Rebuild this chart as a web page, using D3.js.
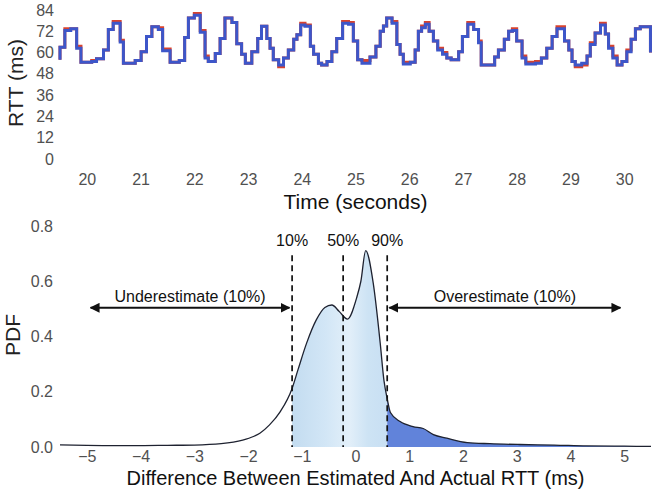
<!DOCTYPE html>
<html>
<head>
<meta charset="utf-8">
<script src="https://cdn.jsdelivr.net/npm/d3@7"></script>
<style>
  html, body { margin: 0; padding: 0; background: #fff; }
  svg { display: block; font-family: "Liberation Sans", Arial, Helvetica, sans-serif; }
</style>
</head>
<body>
<svg id="chart" width="657" height="490"></svg>
<script>
// ---------------- DATA ----------------
// Top panel: RTT step series (step start times, seconds)
const stepTimes = [19.50,19.50,19.59,19.70,19.81,19.89,20.09,20.18,20.31,20.40,20.49,20.62,20.68,20.90,21.01,21.11,21.21,21.33,21.41,21.55,21.72,21.82,21.89,22.00,22.11,22.20,22.26,22.39,22.48,22.57,22.70,22.79,22.88,22.95,23.07,23.18,23.25,23.35,23.41,23.47,23.57,23.66,23.75,23.85,23.91,23.98,24.06,24.16,24.22,24.31,24.37,24.47,24.56,24.65,24.76,24.87,24.96,25.04,25.12,25.27,25.38,25.46,25.52,25.58,25.68,25.77,25.83,25.89,26.02,26.11,26.17,26.23,26.30,26.37,26.45,26.53,26.62,26.70,26.78,26.92,26.99,27.09,27.20,27.29,27.34,27.59,27.66,27.77,27.85,27.92,28.00,28.10,28.17,28.35,28.46,28.56,28.66,28.75,28.89,28.97,29.03,29.09,29.21,29.31,29.37,29.46,29.56,29.65,29.71,29.79,29.87,29.96,30.05,30.13,30.21,30.30,30.49];
// Actual RTT (ms) - blue
const rttActual = [56,63,72.5,73.5,62.5,54.5,55,56.5,61.5,73,76.5,66,54,55.5,60.5,69,74.5,73,61,54.5,55.5,68.5,79.5,81,71.5,57,55,59.5,68,79.5,77,65,59,54,60.5,68,74.8,68,62.5,56,53,57,61.5,67.5,70,75.5,74.8,63.5,59,54,53,55,60.5,68,76.5,76,66.5,56,54,57.5,63.5,72,75,79.5,76.5,64.5,59,53.5,54.5,61.5,72,74,76,72,66.5,61.5,59,57,56,60.5,69,76,73,65.5,53,57.5,61.5,67.5,72,72.5,66.5,57,53.5,54,57,62.5,69,73.5,66.5,61.5,55,53,54,58,64.5,71,75.5,70.5,62.5,57,53,55,60.5,67.5,73.5,74.5,60];
// Estimated RTT (ms) - red
const rttEstimated = [56,63,73.5,73.5,63.5,54.5,55.5,56.5,61.5,73,77.5,67,54,55.5,60.5,69,74.5,74,62,54.5,55.5,68.5,79.5,82,72.5,58,55,59.5,68,79.5,77,65,59,54,60.5,68,74.8,68,62.5,56,52,57,61.5,67.5,70,76.5,75.5,63.5,59,54,53,55,60.5,68,77.5,77,66.5,56,55.5,57.5,63.5,72,75,79.5,77.5,64.5,59,54.5,54.5,61.5,72,75,77,72,66.5,62.5,60,57,56,60.5,69,77,73,66.5,53,57.5,61.5,67.5,72,73.5,66.5,58,54.5,55,57,62.5,69,74.5,66.5,61.5,55,52,53,58,65.5,71,76.5,70.5,63.5,58,53,55,61.5,67.5,73.5,74.5,60];
const topYTicks = [0, 12, 24, 36, 48, 60, 72, 84];
const topXTicks = [20, 21, 22, 23, 24, 25, 26, 27, 28, 29, 30];

// Bottom panel: PDF of estimation error
const pdfX = [-5.5,-5,-4.5,-4,-3.5,-3,-2.5,-2.1,-1.9,-1.78,-1.6,-1.4,-1.18,-1.07,-0.91,-0.73,-0.57,-0.44,-0.3,-0.15,0.02,0.1,0.19,0.33,0.46,0.53,0.59,0.65,0.83,1.07,1.26,1.45,1.7,2.08,2.5,3.06,3.7,4.3,5,5.5];
const pdfY = [0.008,0.006,0.005,0.005,0.006,0.007,0.012,0.025,0.038,0.05,0.08,0.128,0.212,0.28,0.376,0.46,0.505,0.514,0.49,0.463,0.539,0.6,0.711,0.593,0.376,0.24,0.175,0.125,0.092,0.074,0.067,0.045,0.032,0.016,0.012,0.009,0.007,0.004,0.003,0.002];
const quantileLabels = ["10%", "50%", "90%"];
const quantileX = [-1.18, -0.23, 0.59];
const arrowLabels = ["Underestimate (10%)", "Overestimate (10%)"];
const pdfYTicks = [0, 0.2, 0.4, 0.6, 0.8];
const pdfXTicks = [-5, -4, -3, -2, -1, 0, 1, 2, 3, 4, 5];

// ---------------- DRAW ----------------
const svg = d3.select("#chart");
svg.append("rect").attr("width", 657).attr("height", 490).attr("fill", "#fff");
const tickColor = "#505050";
const tickFont = 16;

// ---- Top panel ----
const xT = d3.scaleLinear().domain([19.5, 30.5]).range([60, 651]);
const yT = d3.scaleLinear().domain([0, 84]).range([159, 10]);

const gTopY = svg.append("g").attr("transform", "translate(60,0)")
  .call(d3.axisLeft(yT).tickValues(topYTicks).tickSize(0).tickPadding(6));
const gTopX = svg.append("g").attr("transform", "translate(0,174)")
  .call(d3.axisBottom(xT).tickValues(topXTicks).tickSize(0).tickPadding(0));
[gTopY, gTopX].forEach(g => {
  g.select(".domain").remove();
  g.selectAll("text").attr("fill", tickColor).attr("font-size", tickFont)
    .attr("font-family", "Liberation Sans, Arial, sans-serif");
});

const stepLine = d3.line().curve(d3.curveStepAfter)
  .x((d, i) => xT(stepTimes[i])).y(d => yT(d));
svg.append("path").datum(rttEstimated).attr("d", stepLine)
  .attr("fill", "none").attr("stroke", "#d8432e").attr("stroke-width", 3);
svg.append("path").datum(rttActual).attr("d", stepLine)
  .attr("fill", "none").attr("stroke", "#3d56c9").attr("stroke-width", 3);

svg.append("text").attr("transform", "translate(23,83) rotate(-90)")
  .attr("text-anchor", "middle").attr("font-size", 21).attr("fill", "#222").text("RTT (ms)");
svg.append("text").attr("x", xT(25)).attr("y", 209)
  .attr("text-anchor", "middle").attr("font-size", 21).attr("fill", "#111").text("Time (seconds)");

// ---- Bottom panel ----
const xB = d3.scaleLinear().domain([-5.5, 5.5]).range([60, 651]);
const yB = d3.scaleLinear().domain([0, 0.8]).range([447, 226]);

const gBY = svg.append("g").attr("transform", "translate(60,0)")
  .call(d3.axisLeft(yB).tickValues(pdfYTicks).tickFormat(d3.format(".1f")).tickSize(0).tickPadding(7));
const gBX = svg.append("g").attr("transform", "translate(0,451)")
  .call(d3.axisBottom(xB).tickValues(pdfXTicks).tickSize(0).tickPadding(0));
[gBY, gBX].forEach(g => {
  g.select(".domain").remove();
  g.selectAll("text").attr("fill", tickColor).attr("font-size", tickFont)
    .attr("font-family", "Liberation Sans, Arial, sans-serif");
});

const defs = svg.append("defs");
const grad = defs.append("linearGradient").attr("id", "midFill")
  .attr("gradientUnits", "userSpaceOnUse")
  .attr("x1", xB(quantileX[0])).attr("x2", xB(quantileX[2])).attr("y1", 0).attr("y2", 0);
[["0%", "#c3dcf0"], ["35%", "#d2e6f6"], ["60%", "#e2eff9"], ["80%", "#cde3f4"], ["100%", "#c8dff3"]]
  .forEach(([o, c]) => grad.append("stop").attr("offset", o).attr("stop-color", c));

defs.append("clipPath").attr("id", "clipMid").append("rect")
  .attr("x", xB(quantileX[0])).attr("y", 0)
  .attr("width", xB(quantileX[2]) - xB(quantileX[0])).attr("height", 490);
defs.append("clipPath").attr("id", "clipRight").append("rect")
  .attr("x", xB(quantileX[2])).attr("y", 0)
  .attr("width", 657 - xB(quantileX[2])).attr("height", 490);

const pdfData = pdfX.map((x, i) => [x, pdfY[i]]);
const area = d3.area().curve(d3.curveMonotoneX)
  .x(d => xB(d[0])).y0(yB(0)).y1(d => yB(d[1]));
const line = d3.line().curve(d3.curveMonotoneX)
  .x(d => xB(d[0])).y(d => yB(d[1]));

svg.append("path").datum(pdfData).attr("d", area)
  .attr("fill", "url(#midFill)").attr("clip-path", "url(#clipMid)");
svg.append("path").datum(pdfData).attr("d", area)
  .attr("fill", "#6183da").attr("clip-path", "url(#clipRight)");
svg.append("path").datum(pdfData).attr("d", line)
  .attr("fill", "none").attr("stroke", "#1e2230").attr("stroke-width", 1.3);

// quantile dashed lines + labels
quantileX.forEach((q, i) => {
  svg.append("line").attr("x1", xB(q)).attr("x2", xB(q))
    .attr("y1", yB(0.694)).attr("y2", yB(0))
    .attr("stroke", "#111").attr("stroke-width", 1.7).attr("stroke-dasharray", "6,4");
  svg.append("text").attr("x", xB(q)).attr("y", yB(0.727))
    .attr("text-anchor", "middle").attr("font-size", 16).attr("fill", "#111").text(quantileLabels[i]);
});

// arrows
const marker = defs.append("marker").attr("id", "arrowHead")
  .attr("viewBox", "0 0 10 10").attr("refX", 9).attr("refY", 5)
  .attr("markerWidth", 4.5).attr("markerHeight", 4.5)
  .attr("orient", "auto-start-reverse").attr("markerUnits", "strokeWidth");
marker.append("path").attr("d", "M0,0 L10,5 L0,10 z").attr("fill", "#111");

const arrowY = 0.504;
const arrows = [[-4.93, quantileX[0] - 0.05], [quantileX[2] + 0.04, 4.93]];
arrows.forEach(([a, b], i) => {
  svg.append("line").attr("x1", xB(a)).attr("x2", xB(b))
    .attr("y1", yB(arrowY)).attr("y2", yB(arrowY))
    .attr("stroke", "#111").attr("stroke-width", 2.2)
    .attr("marker-start", "url(#arrowHead)").attr("marker-end", "url(#arrowHead)");
  svg.append("text").attr("x", (xB(a) + xB(b)) / 2).attr("y", yB(0.526))
    .attr("text-anchor", "middle").attr("font-size", 16).attr("fill", "#111").text(arrowLabels[i]);
});

svg.append("text").attr("transform", "translate(20,335) rotate(-90)")
  .attr("text-anchor", "middle").attr("font-size", 21).attr("fill", "#222").text("PDF");
svg.append("text").attr("x", xB(0)).attr("y", 485)
  .attr("text-anchor", "middle").attr("font-size", 20).attr("fill", "#111")
  .text("Difference Between Estimated And Actual RTT (ms)");
</script>
</body>
</html>
